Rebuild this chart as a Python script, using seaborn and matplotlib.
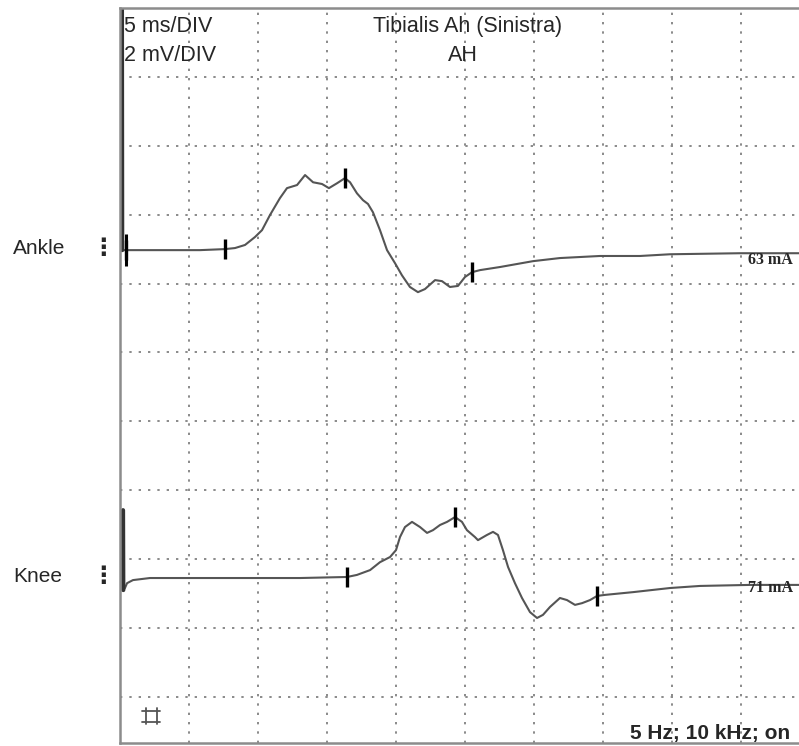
import numpy as np
import matplotlib
matplotlib.use("Agg")
import matplotlib.pyplot as plt
from matplotlib.lines import Line2D
import seaborn as sns

# Sweep settings: 5 ms per division, 2 mV per division
ms_per_div = 5
mv_per_div = 2

# Ankle stimulation trace (time in ms, amplitude in mV relative to baseline)
ankle_ms = [0.14, 0.16, 0.43, 5.80, 7.61, 8.33, 9.06, 9.78, 10.29, 10.87,
            11.59, 12.10, 12.83, 13.41, 13.99, 14.64, 15.14, 15.72, 16.30, 16.67,
            17.17, 17.61, 17.97, 18.33, 18.84, 19.35, 19.93, 20.43, 21.01, 21.59,
            22.10, 22.83, 23.33, 23.91, 24.49, 25.00, 25.51, 26.09, 27.54, 29.93,
            31.88, 34.78, 37.68, 39.86, 44.93, 50.00]
ankle_mv = [7.10, 0.00, 0.00, 0.00, 0.03, 0.06, 0.15, 0.38, 0.58, 1.02,
            1.51, 1.80, 1.89, 2.18, 1.97, 1.92, 1.80, 1.94, 2.09, 1.97,
            1.65, 1.45, 1.34, 1.10, 0.58, 0.00, -0.38, -0.73, -1.07, -1.22,
            -1.13, -0.87, -0.90, -1.07, -1.04, -0.78, -0.64, -0.58, -0.49, -0.32,
            -0.23, -0.17, -0.17, -0.12, -0.09, -0.09]
ankle_marks_ms = [0.43, 7.61, 16.30, 25.51]

# Knee stimulation trace
knee_ms = [0.22, 0.24, 0.36, 0.51, 0.94, 2.17, 5.80, 13.04, 16.45, 17.17,
           18.12, 18.84, 19.57, 20.00, 20.29, 20.65, 21.16, 21.74, 22.25, 22.68,
           23.19, 23.70, 24.28, 24.78, 25.14, 25.72, 25.94, 26.59, 27.03, 27.39,
           27.75, 28.12, 28.62, 29.13, 29.71, 30.22, 30.65, 31.16, 31.88, 32.39,
           32.97, 33.48, 34.06, 34.57, 35.14, 37.17, 39.86, 42.03, 45.65, 50.00]
knee_mv = [1.97, -0.35, -0.29, -0.15, -0.06, 0.00, 0.00, 0.00, 0.03, 0.09,
           0.23, 0.46, 0.61, 0.81, 1.19, 1.48, 1.63, 1.48, 1.31, 1.39,
           1.54, 1.63, 1.77, 1.63, 1.39, 1.19, 1.10, 1.25, 1.34, 1.25,
           0.81, 0.32, -0.15, -0.58, -0.99, -1.16, -1.07, -0.84, -0.58, -0.64,
           -0.78, -0.73, -0.64, -0.52, -0.49, -0.41, -0.29, -0.23, -0.20, -0.20]
knee_marks_ms = [16.45, 24.28, 34.57]

channels = ["Ankle", "Knee"]
stim_labels = ["63 mA", "71 mA"]

# where each channel's baseline sits on the screen (mV)
ankle_base = 12.97
knee_base = 3.45

sns.set_style("white")
plt.rcParams["font.family"] = ["Liberation Sans", "DejaVu Sans"]

fig = plt.figure(figsize=(7.99, 7.46), dpi=100)
ax = fig.add_axes([120 / 799, 3 / 746, 690 / 799, 735 / 746])

ax.set_xlim(0, 10 * ms_per_div)
ax.set_ylim(-1.34, 10 * mv_per_div)
ax.set_xticks(np.arange(0, 10 * ms_per_div + 1, ms_per_div))
ax.set_yticks(np.arange(0, 10 * mv_per_div + 1, mv_per_div))
ax.grid(True, color="#8a8a8a", linestyle=(0, (1.2, 3.6)), linewidth=1.4)
ax.tick_params(length=0, labelleft=False, labelbottom=False)
for s in ax.spines.values():
    s.set_color("#8c8c8c")
    s.set_linewidth(1.8)

trace_col = "#555555"
traces = [(ankle_ms, ankle_mv, ankle_marks_ms, ankle_base, 2),
          (knee_ms, knee_mv, knee_marks_ms, knee_base, 2)]
for i, (t, v, marks, base, n_art) in enumerate(traces):
    t = np.array(t)
    y = np.array(v) + base
    sns.lineplot(x=t, y=y, sort=False, estimator=None, color=trace_col,
                 linewidth=1.5, ax=ax)
    # stimulus artefact drawn heavier
    sns.lineplot(x=t[:n_art], y=y[:n_art], sort=False, estimator=None,
                 color="#333333", linewidth=3, ax=ax)
    mark_y = np.interp(marks, t[n_art:], y[n_art:])
    sns.scatterplot(x=marks, y=mark_y, marker="|", s=200, color="black",
                    linewidth=2.4, ax=ax, zorder=5)
    if marks[0] < 1:
        sns.scatterplot(x=marks[:1], y=mark_y[:1], marker="|", s=560,
                        color="black", linewidth=2.2, ax=ax, zorder=5)
    ax.text(-7.75, base + 0.05, channels[i], fontsize=15, va="center",
            ha="left", clip_on=False)
    ax.text(-1.25, base + 0.05, "\u22ee", fontsize=17, va="center", ha="center",
            fontweight="bold", family=["DejaVu Sans"], clip_on=False)
    ax.text(45.5, base - 0.3, stim_labels[i], fontsize=11.5, va="center",
            ha="left", fontweight="bold", family=["Liberation Serif"])

ax.text(4 / 690, 0.967, "5 ms/DIV", transform=ax.transAxes, fontsize=15.5,
        va="baseline", ha="left")
ax.text(4 / 690, 0.928, "2 mV/DIV", transform=ax.transAxes, fontsize=15.5,
        va="baseline", ha="left")
ax.text(0.503, 0.967, "Tibialis Ah (Sinistra)", transform=ax.transAxes,
        fontsize=15.5, va="baseline", ha="center")
ax.text(0.497, 0.928, "AH", transform=ax.transAxes, fontsize=15.5,
        va="baseline", ha="center")
ax.text(0.739, 0.006, "5 Hz; 10 kHz; on", transform=ax.transAxes,
        fontsize=15, va="baseline", ha="left", fontweight="bold")

# the "⌗" glyph is in none of the installed fonts, so draw it as a shape
tr = fig.dpi_scale_trans
for xv in (1.455, 1.565):
    fig.add_artist(Line2D([xv, xv], [0.22, 0.38], transform=tr,
                          color="#555555", lw=1.3))
for yv in (0.245, 0.355):
    fig.add_artist(Line2D([1.42, 1.60], [yv, yv], transform=tr,
                          color="#555555", lw=1.3))

fig.savefig("out.png", dpi=100)
